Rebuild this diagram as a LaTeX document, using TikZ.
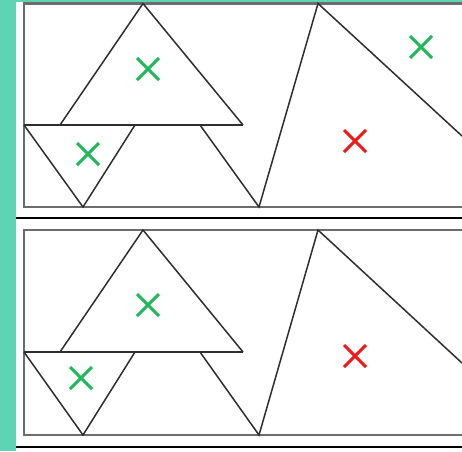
\documentclass[tikz,border=0pt]{standalone}
\usetikzlibrary{shapes.misc}
\definecolor{tealbar}{HTML}{5DD5B5}
\definecolor{okgreen}{HTML}{1FB85A}
\definecolor{badred}{HTML}{F01818}
\definecolor{edgegray}{HTML}{2E2E2E}
\begin{document}
\begin{tikzpicture}[x=1pt, y=-1pt,
  panel/.style={draw=gray!85!black, line width=2.4pt},
  edge/.style={draw=edgegray, line width=1.5pt, line join=miter},
  crossmark/.style={cross out, draw, line width=3pt, minimum size=19pt, inner sep=0pt},
  okmark/.style={crossmark, draw=okgreen},
  badmark/.style={crossmark, draw=badred}]
\useasboundingbox (0,0) rectangle (462,451);
\clip (0,0) rectangle (462,451);
\fill[white] (0,0) rectangle (462,451);
\fill[tealbar] (0,0) rectangle (16,451);
\fill[tealbar] (16,0) rectangle (462,2);
% top panel
\draw[panel] (24,3.5) rectangle (480,207);
\draw[edge] (24,125) -- (243,125);
\draw[edge] (60,125) -- (143,3.5) -- (243,125);
\draw[edge] (24,125) -- (83,207) -- (135,125);
\draw[edge] (200,125) -- (259,207) -- (318,3.5) -- (462,136);
\node[okmark] (bigtop) at (148,69) {};
\node[okmark] (smalltop) at (88,154) {};
\node[okmark] (corner) at (421,47) {};
\node[badmark] (wrongtop) at (355,141) {};
\draw[black, line width=1.4pt] (16,218) -- (462,218);
% bottom panel
\draw[panel] (24,230) rectangle (480,435);
\draw[edge] (24,352) -- (243,352);
\draw[edge] (60,352) -- (143,230) -- (243,352);
\draw[edge] (24,352) -- (83,435) -- (135,352);
\draw[edge] (200,352) -- (259,435) -- (318,230) -- (462,363);
\node[okmark] (bigbot) at (148,305) {};
\node[okmark] (smallbot) at (81,378) {};
\node[badmark] (wrongbot) at (355,356) {};
\draw[black, line width=1.4pt] (16,447) -- (462,447);
\end{tikzpicture}
\end{document}
